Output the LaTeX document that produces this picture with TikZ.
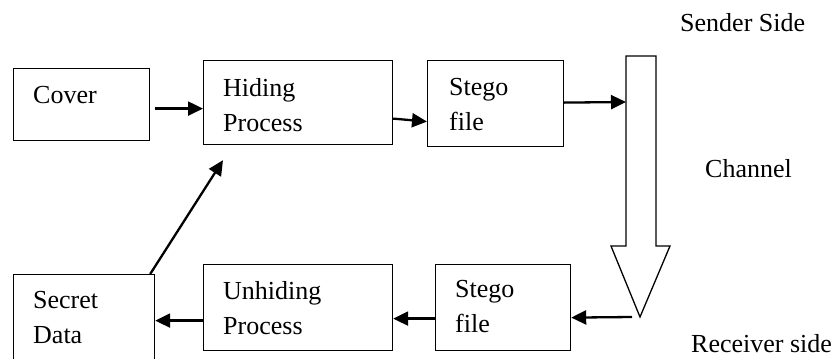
\documentclass[tikz,border=0pt]{standalone}
\usepackage{fontspec}
\setmainfont{Liberation Serif}
\usetikzlibrary{arrows.meta,calc}
\begin{document}
\begin{tikzpicture}[x=1pt,y=-1pt,
  box/.style={draw, line width=1.2pt, rectangle, inner sep=0pt, anchor=north west},
  lbl/.style={font=\fontsize{26}{35}\selectfont, inner sep=0pt, anchor=base west, align=left},
  arr/.style={line width=2.3pt, -{Triangle[length=15pt,width=14pt]}},
  channel/.style={draw, line width=1.3pt, line join=miter},
]
\useasboundingbox (0,0) rectangle (836,359);
\clip (0,0) rectangle (836,359);

% process boxes
\node[box, minimum width=136pt, minimum height=72pt] (cover) at (13,68) {};
\node[box, minimum width=189pt, minimum height=84pt] (hiding) at (203,60) {};
\node[box, minimum width=136pt, minimum height=86pt] (stegoA) at (427,60) {};
\node[box, minimum width=141pt, minimum height=110pt] (secret) at (13,274) {};
\node[box, minimum width=189pt, minimum height=86pt] (unhiding) at (203,264) {};
\node[box, minimum width=135pt, minimum height=86pt] (stegoB) at (435,264) {};

% box texts (placed by the baseline of their last line)
\node[lbl] (tcover) at (33,103) {Cover};
\node[lbl] (thiding) at (223,131) {Hiding\\Process};
\node[lbl] (tstegoA) at (449,130) {Stego\\file};
\node[lbl] (tsecret) at (33,343) {Secret\\Data};
\node[lbl] (tunhiding) at (223,334) {Unhiding\\Process};
\node[lbl] (tstegoB) at (455,332) {Stego\\file};

% side labels
\node[lbl] (tsender) at (680,31) {Sender Side};
\node[lbl] (tchannel) at (705,177) {Channel};
\node[lbl] (treceiver) at (691,352) {Receiver side};

% channel block arrow
\draw[channel] (626,56) -- (656,56) -- (656,246) -- (670,246) -- (640,317)
  -- (611,246) -- (626,246) -- cycle;
\coordinate (chin) at (626,102);
\coordinate (chtip) at (640,317);

% connectors
\draw[arr] ($(cover.east)+(5,4)$) -- ($(hiding.west)+(0,6)$);
\draw[arr] ($(hiding.east)+(0,16)$) -- ($(stegoA.west)+(0,18)$);
\draw[arr] ($(stegoA.east)+(0,-1)$) -- (chin);
\draw[arr] ($(chtip)+(-8,0)$) -- ($(stegoB.east)+(0,10)$);
\draw[arr] ($(stegoB.west)+(0,11)$) -- ($(unhiding.east)+(0,11)$);
\draw[arr] ($(unhiding.west)+(0,13)$) -- ($(secret.east)+(0,-9)$);
\draw[arr] ($(secret.north east)+(-5,0)$) -- ($(hiding.south west)+(20,15)$);
\end{tikzpicture}
\end{document}
